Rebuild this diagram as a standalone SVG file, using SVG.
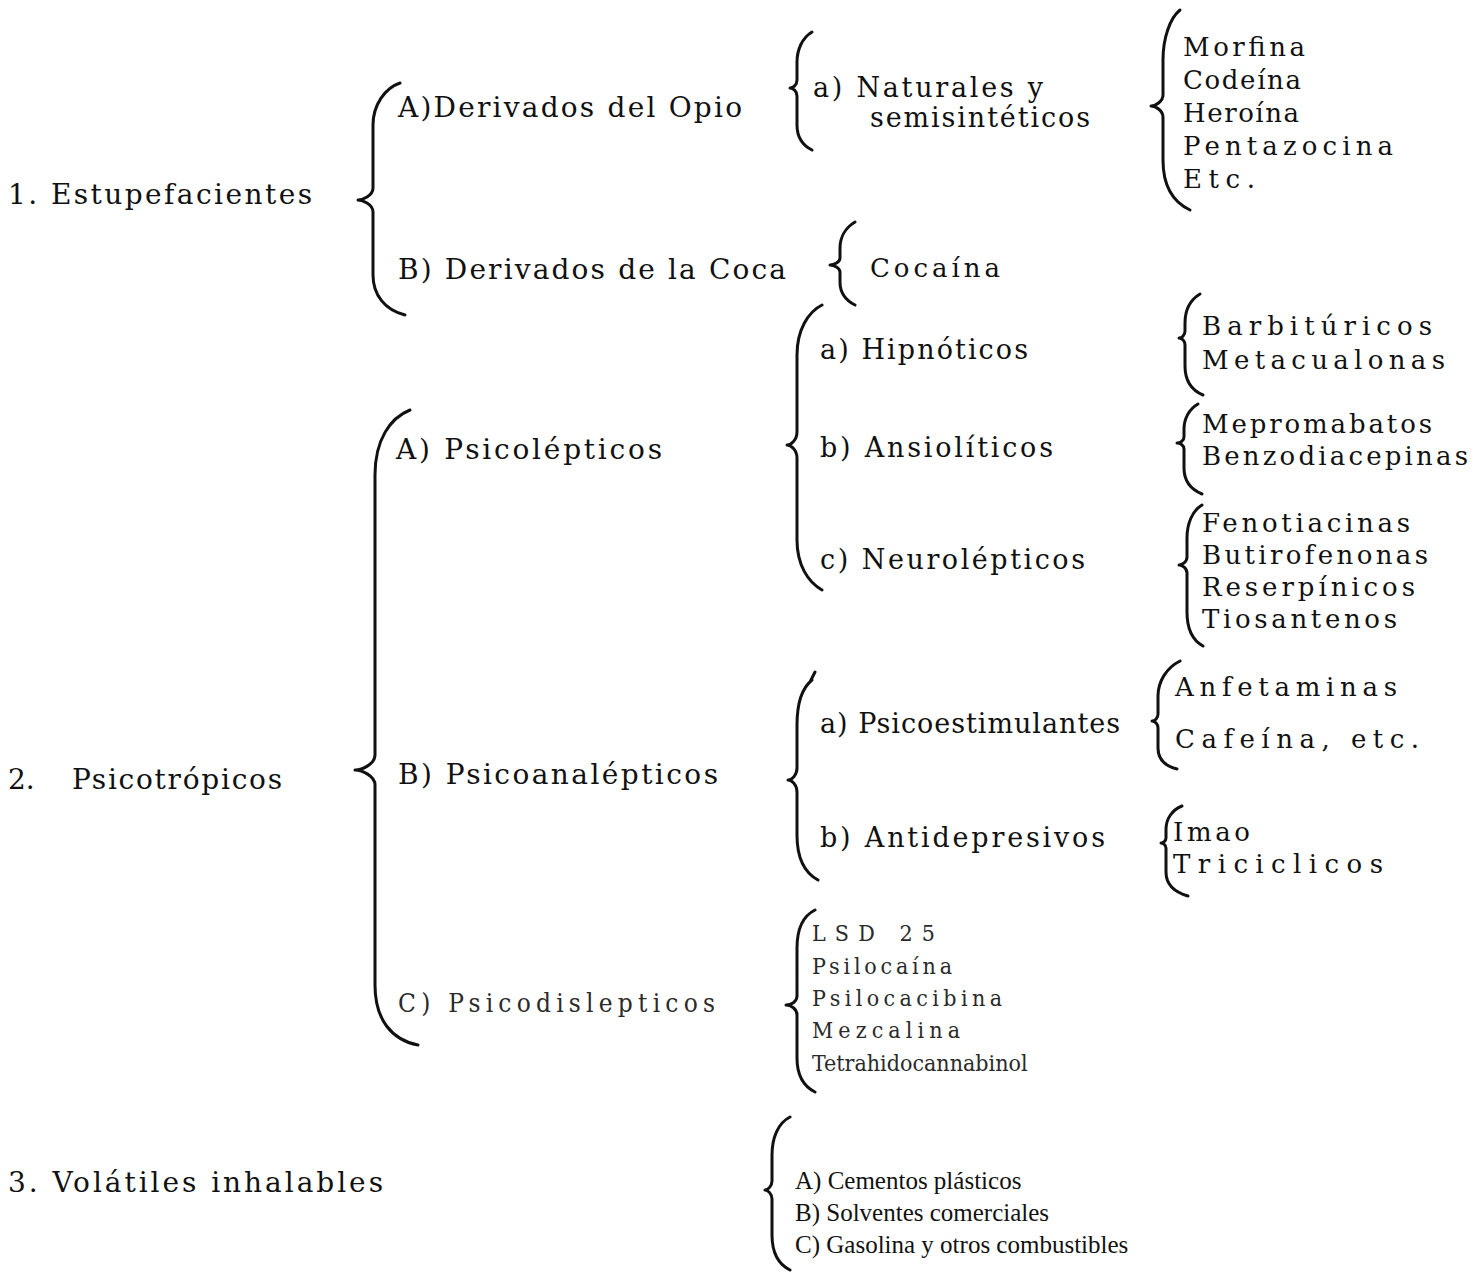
<svg xmlns="http://www.w3.org/2000/svg" width="1476" height="1281" viewBox="0 0 1476 1281">
<style>
text{font-family:"DejaVu Serif","Liberation Serif",serif;fill:#111}
.l{font-size:28px}
.m{font-size:27px}
.n{font-size:26px}
.t{font-family:"DejaVu Serif Condensed","DejaVu Serif",serif;font-stretch:condensed;font-size:23px;fill:#2a2a2a}
.s{font-family:"Liberation Serif","DejaVu Serif",serif;font-size:25px}
.br{fill:none;stroke:#111;stroke-width:3;stroke-linecap:round;stroke-linejoin:round}
</style>
<rect width="1476" height="1281" fill="#fff"/>
<g id="connectors">
<path class="br" d="M400,83 C385,88 373,105 373,125 L373,188 C373,196 362,200 358,200 C362,200 373,204 373,212 L373,275 C373,295 385,310 405,315"/>
<path class="br" d="M410,410 C390,418 375,440 375,475 L375,755 C375,764 362,770 355,770 C362,770 375,776 375,785 L375,985 C375,1020 392,1040 418,1045"/>
<path class="br" d="M812,32 C802,38 797,50 797,62 L797,80 C797,85 793,88 790,88 C793,88 797,91 797,96 L797,125 C797,137 802,145 812,150"/>
<path class="br" d="M855,222 C845,228 840,238 840,248 L840,258 C840,262 834,265 830,265 C834,265 840,268 840,272 L840,282 C840,292 845,300 855,305"/>
<path class="br" d="M822,305 C808,312 797,330 797,355 L797,432 C797,440 791,445 787,445 C791,445 797,450 797,458 L797,540 C797,565 808,582 822,590"/>
<path class="br" d="M812,680 C802,688 797,705 797,725 L797,768 C797,775 792,780 788,780 C792,780 797,785 797,792 L797,835 C797,858 805,873 818,880 M810,682 L815,672"/>
<path class="br" d="M815,910 C803,916 797,930 797,948 L797,996 C797,1002 791,1005 786,1005 C791,1005 797,1009 797,1015 L797,1058 C797,1075 803,1086 815,1092"/>
<path class="br" d="M790,1117 C778,1123 772,1138 772,1155 L772,1181 C772,1186 768,1190 765,1190 C768,1190 772,1194 772,1199 L772,1235 C772,1252 778,1264 790,1270"/>
<path class="br" d="M1180,10 C1170,18 1163,38 1163,60 L1163,95 C1163,101 1156,106 1151,106 C1156,106 1163,111 1163,117 L1163,160 C1163,185 1173,202 1190,210"/>
<path class="br" d="M1200,294 C1190,300 1185,311 1185,323 L1185,331 C1185,335 1182,338 1179,338 C1182,338 1185,341 1185,345 L1185,366 C1185,381 1191,390 1203,395"/>
<path class="br" d="M1198,404 C1189,409 1184,419 1184,429 L1184,437 C1184,441 1180,443 1177,443 C1180,443 1184,445 1184,449 L1184,468 C1184,481 1190,489 1202,494"/>
<path class="br" d="M1202,505 C1192,511 1187,524 1187,538 L1187,557 C1187,562 1182,565 1179,565 C1182,565 1187,568 1187,573 L1187,612 C1187,628 1192,640 1203,646"/>
<path class="br" d="M1180,661 C1166,668 1158,682 1158,696 L1158,714 C1158,718 1155,721 1152,721 C1155,721 1158,724 1158,728 L1158,748 C1158,760 1165,766 1177,769"/>
<path class="br" d="M1182,806 C1172,810 1166,819 1166,829 L1166,838 C1166,841 1163,843 1161,843 C1163,843 1166,845 1166,848 L1166,872 C1166,885 1174,892 1188,896"/>
</g>
<g id="n1"><text class="l" x="8" y="204" textLength="304" lengthAdjust="spacing">1. Estupefacientes</text></g>
<g id="n1A"><text class="l" x="398" y="117" textLength="344" lengthAdjust="spacing">A)Derivados del Opio</text></g>
<g id="n1B"><text class="l" x="398" y="279" textLength="388" lengthAdjust="spacing">B) Derivados de la Coca</text></g>
<g id="n1Aa"><text class="m" x="813" y="97" textLength="230" lengthAdjust="spacing">a) Naturales y</text><text class="m" x="870" y="127" textLength="220" lengthAdjust="spacing">semisintéticos</text></g>
<g id="n1Ba"><text class="n" x="870" y="277" textLength="130" lengthAdjust="spacing">Cocaína</text></g>
<g id="n1Aa-list">
<text class="n" x="1183" y="56" textLength="122" lengthAdjust="spacing">Morfina</text>
<text class="n" x="1183" y="89" textLength="118" lengthAdjust="spacing">Codeína</text>
<text class="n" x="1183" y="122" textLength="116" lengthAdjust="spacing">Heroína</text>
<text class="n" x="1183" y="155" textLength="210" lengthAdjust="spacing">Pentazocina</text>
<text class="n" x="1183" y="188" textLength="72" lengthAdjust="spacing">Etc.</text>
</g>
<g id="n2"><text class="l" x="8" y="789">2.</text><text class="l" x="72" y="789" textLength="210" lengthAdjust="spacing">Psicotrópicos</text></g>
<g id="n2A"><text class="l" x="396" y="459" textLength="266" lengthAdjust="spacing">A) Psicolépticos</text></g>
<g id="n2B"><text class="l" x="398" y="784" textLength="320" lengthAdjust="spacing">B) Psicoanalépticos</text></g>
<g id="n2C"><text class="t" x="398" y="1012" textLength="317" lengthAdjust="spacing" style="font-size:26px">C) Psicodislepticos</text></g>
<g id="n2Aa"><text class="m" x="820" y="359" textLength="208" lengthAdjust="spacing">a) Hipnóticos</text></g>
<g id="n2Ab"><text class="m" x="820" y="457" textLength="233" lengthAdjust="spacing">b) Ansiolíticos</text></g>
<g id="n2Ac"><text class="m" x="820" y="569" textLength="265" lengthAdjust="spacing">c) Neurolépticos</text></g>
<g id="n2Aa-list"><text class="n" x="1202" y="335" textLength="230" lengthAdjust="spacing">Barbitúricos</text><text class="n" x="1202" y="369" textLength="243" lengthAdjust="spacing">Metacualonas</text></g>
<g id="n2Ab-list"><text class="n" x="1202" y="433" textLength="230" lengthAdjust="spacing">Mepromabatos</text><text class="n" x="1202" y="465" textLength="266" lengthAdjust="spacing">Benzodiacepinas</text></g>
<g id="n2Ac-list">
<text class="n" x="1202" y="532" textLength="208" lengthAdjust="spacing">Fenotiacinas</text>
<text class="n" x="1202" y="564" textLength="226" lengthAdjust="spacing">Butirofenonas</text>
<text class="n" x="1202" y="596" textLength="213" lengthAdjust="spacing">Reserpínicos</text>
<text class="n" x="1202" y="628" textLength="195" lengthAdjust="spacing">Tiosantenos</text>
</g>
<g id="n2Ba"><text class="m" x="820" y="733" textLength="300" lengthAdjust="spacing">a) Psicoestimulantes</text></g>
<g id="n2Bb"><text class="m" x="820" y="847" textLength="285" lengthAdjust="spacing">b) Antidepresivos</text></g>
<g id="n2Ba-list"><text class="n" x="1175" y="696" textLength="222" lengthAdjust="spacing">Anfetaminas</text><text class="n" x="1175" y="748" textLength="244" lengthAdjust="spacing">Cafeína, etc.</text></g>
<g id="n2Bb-list"><text class="n" x="1173" y="841" textLength="77" lengthAdjust="spacing">Imao</text><text class="n" x="1173" y="873" textLength="210" lengthAdjust="spacing">Triciclicos</text></g>
<g id="n2C-list">
<text class="t" x="812" y="941" textLength="123" lengthAdjust="spacing">LSD 25</text>
<text class="t" x="812" y="974" textLength="140" lengthAdjust="spacing">Psilocaína</text>
<text class="t" x="812" y="1006" textLength="190" lengthAdjust="spacing">Psilocacibina</text>
<text class="t" x="812" y="1038" textLength="148" lengthAdjust="spacing">Mezcalina</text>
<text class="t" x="812" y="1071">Tetrahidocannabinol</text>
</g>
<g id="n3"><text class="l" x="8" y="1192" textLength="375" lengthAdjust="spacing">3. Volátiles inhalables</text></g>
<g id="n3-list">
<text class="s" x="795" y="1189">A) Cementos plásticos</text>
<text class="s" x="795" y="1221">B) Solventes comerciales</text>
<text class="s" x="795" y="1253">C) Gasolina y otros combustibles</text>
</g>
</svg>
